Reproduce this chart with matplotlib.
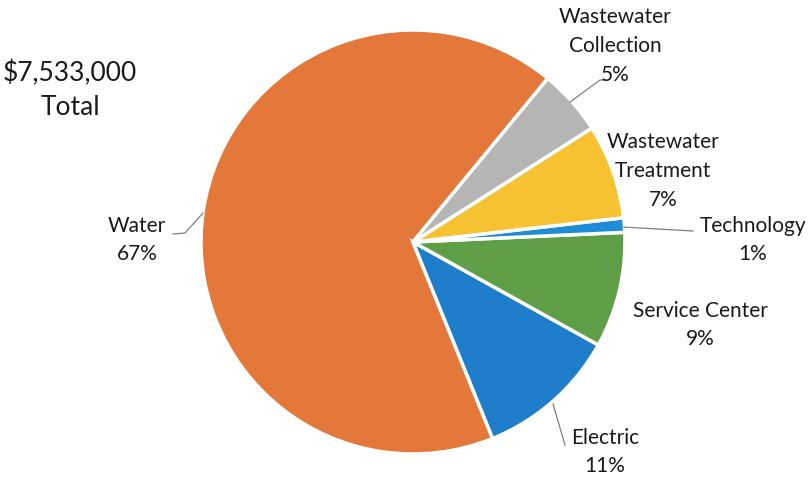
import numpy as np
import matplotlib
matplotlib.use("Agg")
import matplotlib.pyplot as plt

plt.rcParams['font.family'] = ['Lato', 'DejaVu Sans']

# ---- data (counterclockwise order, starting at upper-right edge of Water) ----
labels = ["Water", "Electric", "Service Center", "Technology",
          "Wastewater\nTreatment", "Wastewater\nCollection"]
shares = [67.1, 10.8, 8.8, 1.1, 7.2, 5.0]
pct_text = ["67%", "11%", "9%", "1%", "7%", "5%"]
colors = ["#E4773A", "#1F7ECC", "#5E9E47", "#1F8DD6", "#F7C232", "#B5B5B5"]
total_text = "$7,533,000\nTotal"

W, H = 811, 479
fig = plt.figure(figsize=(W / 100, H / 100), dpi=100)
ax = fig.add_axes([0, 0, 1, 1])

cx, cy, r = 413, H - 242, 212
ax.pie(shares, colors=colors, startangle=50.5, counterclock=True,
       center=(cx, cy), radius=r, frame=True,
       wedgeprops=dict(edgecolor='white', linewidth=2.5))
ax.set_xlim(0, W)
ax.set_ylim(0, H)
ax.set_aspect('equal')
ax.axis('off')

fs = 15
lc = "#7F7F7F"

def lab(x, y, name, pct):
    ax.text(x, H - y, name + "\n" + pct, ha='center', va='center',
            fontsize=fs, color='#1A1A1A', linespacing=1.55)

def leader(pts):
    xs = [p[0] for p in pts]
    ys = [H - p[1] for p in pts]
    ax.plot(xs, ys, color=lc, lw=0.9)

# Water
lab(137, 240, labels[0], pct_text[0])
leader([(203, 213), (185, 233), (173, 234)])
# Electric
lab(605, 452, labels[1], pct_text[1])
leader([(553, 404), (565, 445)])
# Service Center
lab(700, 325, labels[2], pct_text[2])
# Technology
lab(753, 240, labels[3], pct_text[3])
leader([(624, 227), (640, 228), (693, 231)])
# Treatment
lab(663, 171, labels[4], pct_text[4])
# Collection
lab(615, 46, labels[5], pct_text[5])
leader([(570, 102), (600, 80), (606, 80)])

ax.text(70, H - 90, total_text, ha='center', va='center', fontsize=19,
        color='#1A1A1A', linespacing=1.45)

fig.savefig("out.png", dpi=100)
